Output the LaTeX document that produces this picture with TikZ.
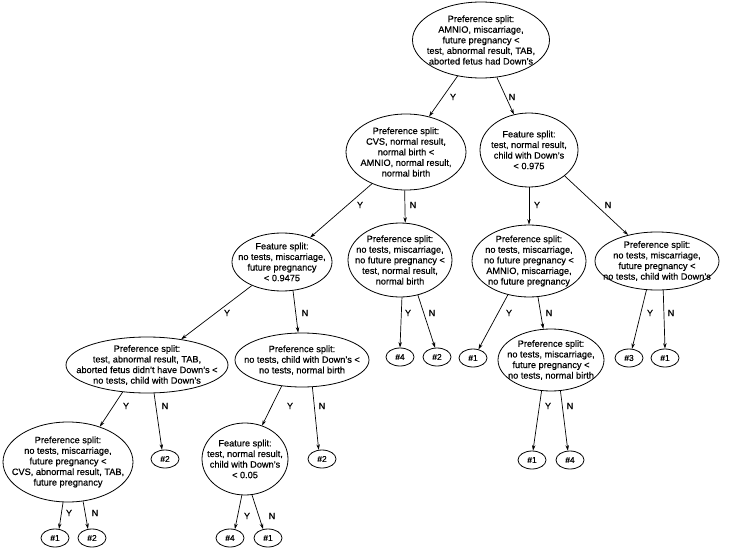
\documentclass[tikz,border=0pt]{standalone}
\usepackage{fontspec}
\setmainfont[FakeBold=0.5]{Liberation Sans}
\usetikzlibrary{shapes.geometric,arrows.meta}
\begin{document}
\begin{tikzpicture}[x=1pt,y=-1pt,
  el/.style={ellipse,draw,line width=0.8pt,inner sep=0pt},
  txt/.style={align=center,inner sep=0pt,font=\fontsize{9.2}{10.6}\selectfont},
  leaf/.style={ellipse,draw,line width=0.8pt,minimum width=28pt,minimum height=18pt,inner sep=0pt,font=\fontsize{8.5}{10}\selectfont},
  arr/.style={-{Stealth[length=5.5pt,width=3.5pt]},line width=0.7pt},
  lab/.style={font=\fontsize{9}{10}\selectfont,inner sep=0pt}]
\useasboundingbox (0,0) rectangle (729,554);

\node[el,minimum width=137,minimum height=76,label={[txt]center:{Preference split:\\AMNIO, miscarriage,\\future pregnancy <\\test, abnormal result, TAB,\\aborted fetus had Down's}}] (R) at (481,40) {};
\node[el,minimum width=120,minimum height=76,label={[txt]center:{Preference split:\\CVS, normal result,\\normal birth <\\AMNIO, normal result,\\normal birth}}] (A) at (406,152) {};
\node[el,minimum width=98,minimum height=74,label={[txt]center:{Feature split:\\test, normal result,\\child with Down's\\< 0.975}}] (B) at (529,150) {};
\node[el,minimum width=100,minimum height=58,label={[txt]center:{Feature split:\\no tests, miscarriage,\\future pregnancy\\< 0.9475}}] (C) at (282,262) {};
\node[el,minimum width=104,minimum height=74,label={[txt]center:{Preference split:\\no tests, miscarriage,\\no future pregnancy <\\test, normal result,\\normal birth}}] (D) at (400,260) {};
\node[el,minimum width=114,minimum height=72,label={[txt]center:{Preference split:\\no tests, miscarriage,\\no future pregnancy <\\AMNIO, miscarriage,\\no future pregnancy}}] (E) at (529,261) {};
\node[el,minimum width=124,minimum height=58,label={[txt]center:{Preference split:\\no tests, miscarriage,\\future pregnancy <\\no tests, child with Down's}}] (F) at (657,261) {};
\node[el,minimum width=162,minimum height=56,label={[txt]center:{Preference split:\\test, abnormal result, TAB,\\aborted fetus didn't have Down's <\\no tests, child with Down's}}] (G) at (147,365) {};
\node[el,minimum width=134,minimum height=54,label={[txt]center:{Preference split:\\no tests, child with Down's <\\no tests, normal birth}}] (H) at (302,360) {};
\node[el,minimum width=106,minimum height=62,label={[txt]center:{Preference split:\\no tests, miscarriage,\\future pregnancy <\\no tests, normal birth}}] (K) at (551,360) {};
\node[el,minimum width=130,minimum height=80,label={[txt]center:{Preference split:\\no tests, miscarriage,\\future pregnancy <\\CVS, abnormal result, TAB,\\future pregnancy}}] (M) at (68,462) {};
\node[el,minimum width=86,minimum height=72,label={[txt]center:{Feature split:\\test, normal result,\\child with Down's\\< 0.05}}] (Nn) at (245,459) {};

\node[leaf] (l1) at (400,357) {\#4};
\node[leaf] (l2) at (437,357) {\#2};
\node[leaf] (l3) at (473,358) {\#1};
\node[leaf] (l4) at (629,358) {\#3};
\node[leaf] (l5) at (665,358) {\#1};
\node[leaf] (l6) at (165,459) {\#2};
\node[leaf] (l7) at (322,459) {\#2};
\node[leaf] (l8) at (532,460) {\#1};
\node[leaf] (l9) at (570,460) {\#4};
\node[leaf] (l10) at (55,538) {\#1};
\node[leaf] (l11) at (92,538) {\#2};
\node[leaf] (l12) at (230,538) {\#4};
\node[leaf] (l13) at (268,538) {\#1};

\draw[arr] (R.237) -- (A.57) node[lab] (y1) at (453,97) {Y};
\draw[arr] (R.293) -- (B.113) node[lab] (n1) at (512,97) {N};
\draw[arr] (A.223) -- (C.41) node[lab] (y2) at (360,205) {Y};
\draw[arr] (A.268) -- (D.82) node[lab] (n2) at (413,205) {N};
\draw[arr] (B.270) -- (E.90) node[lab] (y3) at (537,205) {Y};
\draw[arr] (B.324) -- (F.138) node[lab] (n3) at (608,205) {N};
\draw[arr] (C.218) -- (G.37) node[lab] (y4) at (227,313) {Y};
\draw[arr] (C.291) -- (H.98) node[lab] (n4) at (305,313) {N};
\draw[arr] (D.273) -- (l1.90) node[lab] (y5) at (408,313) {Y};
\draw[arr] (D.297) -- (l2.102) node[lab] (n5) at (432,313) {N};
\draw[arr] (E.238) -- (l3.58) node[lab] (y6) at (509,313) {Y};
\draw[arr] (E.284) -- (K.104) node[lab] (n6) at (549,313) {N};
\draw[arr] (F.250) -- (l4.72) node[lab] (y7) at (650,313) {Y};
\draw[arr] (F.282) -- (l5.90) node[lab] (n7) at (671,313) {N};
\draw[arr] (G.228) -- (M.48) node[lab] (y8) at (126,406) {Y};
\draw[arr] (G.284) -- (l6.108) node[lab] (n8) at (165,406) {N};
\draw[arr] (H.232) -- (Nn.63) node[lab] (y9) at (290,406) {Y};
\draw[arr] (H.291) -- (l7.110) node[lab] (n9) at (322,406) {N};
\draw[arr] (K.253) -- (l8.84) node[lab] (y10) at (548,406) {Y};
\draw[arr] (K.287) -- (l9.103) node[lab] (n10) at (570,406) {N};
\draw[arr] (M.263) -- (l10.66) node[lab] (y11) at (69,513) {Y};
\draw[arr] (M.291) -- (l11.114) node[lab] (n11) at (95,513) {N};
\draw[arr] (Nn.265) -- (l12.61) node[lab] (y12) at (247,516) {Y};
\draw[arr] (Nn.281) -- (l13.119) node[lab] (n12) at (272,516) {N};
\end{tikzpicture}
\end{document}
